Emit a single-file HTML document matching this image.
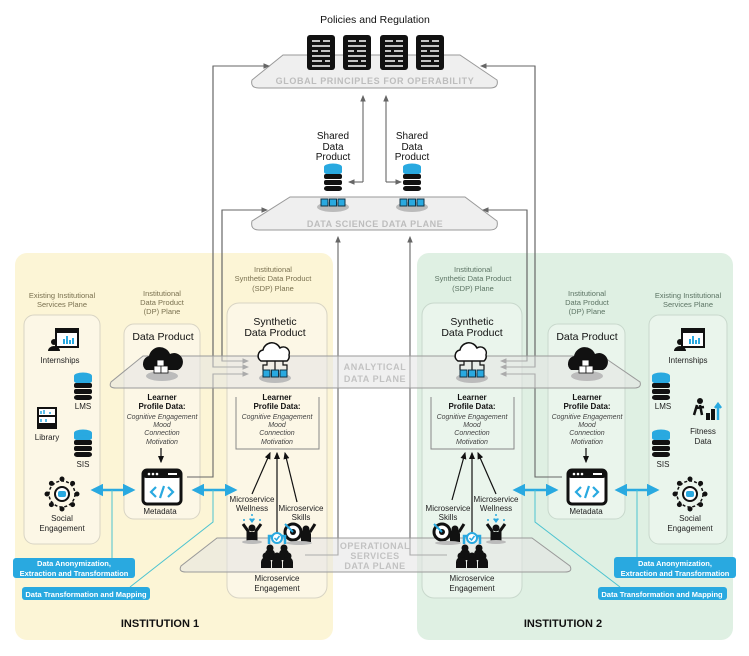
<!DOCTYPE html>
<html><head><meta charset="utf-8"><style>
html,body{margin:0;padding:0;background:#fff}
svg{display:block;font-family:"Liberation Sans",sans-serif}
</style></head><body>
<svg width="749" height="656" viewBox="0 0 749 656" xmlns="http://www.w3.org/2000/svg">
<defs>
<marker id="ag" markerWidth="6" markerHeight="6" refX="5" refY="3" orient="auto"><path d="M0,0.5 L6,3 L0,5.5z" fill="#666"/></marker>
<marker id="ab" markerWidth="6" markerHeight="6" refX="5" refY="3" orient="auto"><path d="M0,0.5 L6,3 L0,5.5z" fill="#111"/></marker>
<marker id="ac" markerWidth="5" markerHeight="5" refX="4" refY="2.5" orient="auto-start-reverse"><path d="M0,0 L5,2.5 L0,5z" fill="#29a9e0"/></marker>
<g id="db">
<ellipse cx="0" cy="2" rx="9" ry="3.5" fill="#29a9e0"/><rect x="-9" y="2" width="18" height="5" fill="#29a9e0"/><ellipse cx="0" cy="7" rx="9" ry="3" fill="#29a9e0"/>
<rect x="-9" y="9" width="18" height="5" rx="2" fill="#111"/><rect x="-9" y="15" width="18" height="5" rx="2" fill="#111"/><rect x="-9" y="21" width="18" height="5" rx="3" fill="#111"/>
</g>
<g id="cubes"><ellipse cx="0" cy="8" rx="16" ry="5" fill="#bbb"/>
<rect x="-12" y="0" width="7" height="7" fill="#29a9e0" stroke="#134" stroke-width="1"/><rect x="-3.5" y="0" width="7" height="7" fill="#29a9e0" stroke="#134" stroke-width="1"/><rect x="5" y="0" width="7" height="7" fill="#29a9e0" stroke="#134" stroke-width="1"/></g>
<g id="wcloud"><path d="M-14,8 a6,6 0 0 1 2,-11 a9,9 0 0 1 17,-2 a6,6 0 0 1 9,7 a6,6 0 0 1 -2,6z" fill="#fff" stroke="#111" stroke-width="1.5"/>
<path d="M-8,8 v4 h-4 v5 M0,8 v9 M8,8 v4 h4 v5" stroke="#111" fill="none" stroke-width="1.2"/>
<use href="#cubes" y="17"/></g>
<g id="bcloud"><ellipse cx="0" cy="16" rx="16" ry="5" fill="#bbb"/><path d="M-16,10 a8,8 0 0 1 3,-14 a11,11 0 0 1 21,-2 a8,8 0 0 1 8,16z" fill="#111"/>
<rect x="-5" y="0" width="7" height="7" fill="#fff" stroke="#111" stroke-width="0.8"/><rect x="-8" y="6" width="7" height="7" fill="#fff" stroke="#111" stroke-width="0.8"/><rect x="-1" y="6" width="7" height="7" fill="#fff" stroke="#111" stroke-width="0.8"/></g>
<g id="meta"><rect x="-19" y="-17" width="38" height="34" rx="4" fill="#fff" stroke="#111" stroke-width="3"/><rect x="-19" y="-17" width="38" height="8" rx="3" fill="#111"/>
<circle cx="-13" cy="-13" r="1.3" fill="#fff"/><circle cx="-9" cy="-13" r="1.3" fill="#fff"/><circle cx="-5" cy="-13" r="1.3" fill="#fff"/><rect x="6" y="-14" width="9" height="2" fill="#fff"/>
<path d="M-6,0 l-5,5 l5,5 M6,0 l5,5 l-5,5 M2,-1 l-4,12" stroke="#29a9e0" stroke-width="2.2" fill="none"/></g>
<g id="doc"><rect x="0" y="0" width="28" height="35" rx="3" fill="#111"/>
<path d="M5,6h8M16,6h7M5,11h18M5,16h6M14,16h9M5,21h18M5,26h10M18,26h5M5,31h18" stroke="#fff" stroke-width="1.6"/></g>
<g id="person"><circle cx="0" cy="-6" r="3.5" fill="#111"/><path d="M-5,6 v-6 a5,5 0 0 1 10,0 v6z" fill="#111"/></g>
<g id="social"><circle cx="0" cy="0" r="13" fill="none" stroke="#111" stroke-width="1.5" stroke-dasharray="3 2"/>
<circle cx="0" cy="0" r="7" fill="#fff" stroke="#111" stroke-width="2"/><rect x="-4" y="-3" width="8" height="6" rx="2" fill="#29a9e0"/>
<g fill="#111"><circle cx="0" cy="-15" r="2.5"/><circle cx="0" cy="15" r="2.5"/><circle cx="-15" cy="0" r="2.5"/><circle cx="15" cy="0" r="2.5"/><circle cx="10.6" cy="10.6" r="2.5"/><circle cx="-10.6" cy="10.6" r="2.5"/><circle cx="10.6" cy="-10.6" r="2.5"/><circle cx="-10.6" cy="-10.6" r="2.5"/></g></g>
<g id="intern"><rect x="-6" y="-12" width="22" height="18" fill="#fff" stroke="#111" stroke-width="2"/><rect x="-6" y="-12" width="22" height="4" fill="#111"/>
<path d="M2,3v-5M5,3v-8M8,3v-4M11,3v-6" stroke="#29a9e0" stroke-width="2"/><circle cx="-8" cy="1" r="3" fill="#111"/><path d="M-14,10 a6,5 0 0 1 12,0z" fill="#111"/></g>
<g id="engage"><path d="M-8,-2 v-8 h16 v8" fill="none" stroke="#29a9e0" stroke-width="2.5"/><circle cx="0" cy="-8" r="5" fill="#fff" stroke="#29a9e0" stroke-width="2"/><path d="M-2.5,-8 l2,2 l3,-4" stroke="#29a9e0" stroke-width="1.5" fill="none"/>
<use href="#person" x="-7" y="8"/><use href="#person" x="7" y="8"/><use href="#person" x="-11" y="16"/><use href="#person" x="0" y="16"/><use href="#person" x="11" y="16"/></g>
<g id="well"><path d="M-3,-13 a2,2 0 0 1 3,0 a2,2 0 0 1 3,0 l-3,4z" fill="#29a9e0"/><circle cx="-8" cy="-12" r="1" fill="#29a9e0"/><circle cx="8" cy="-12" r="1" fill="#29a9e0"/><circle cx="0" cy="-17" r="1" fill="#29a9e0"/>
<circle cx="0" cy="-4" r="3.5" fill="#111"/><path d="M-9,-8 l5,7 v10 h8 v-10 l5,-7" fill="none" stroke="#111" stroke-width="3"/><rect x="-4" y="0" width="8" height="9" fill="#111"/><ellipse cx="0" cy="10" rx="10" ry="2" fill="#bbb"/></g>
<g id="skill"><circle cx="-6" cy="0" r="8" fill="#fff" stroke="#111" stroke-width="3"/><circle cx="-6" cy="0" r="3" fill="#111"/><path d="M-6,0 l-8,-8" stroke="#29a9e0" stroke-width="2"/>
<circle cx="7" cy="-3" r="3.5" fill="#111"/><path d="M2,10 v-8 a5,5 0 0 1 10,0 v8z" fill="#111"/><path d="M11,0 l5,-8" stroke="#111" stroke-width="3"/><ellipse cx="0" cy="11" rx="13" ry="2" fill="#bbb"/></g>
</defs>

<!-- institution backgrounds -->
<rect x="15" y="253" width="318" height="387" rx="12" fill="#fcf5d6"/>
<rect x="417" y="253" width="316" height="387" rx="12" fill="#dff0e3"/>

<!-- columns inst1 -->
<g fill="#fbf9f0" fill-opacity="0.6" stroke="#d8d4c4" stroke-width="1">
<rect x="24" y="315" width="76" height="229" rx="10"/>
<rect x="124" y="324" width="76" height="195" rx="10"/>
<rect x="227" y="303" width="100" height="295" rx="12"/>
</g>
<g fill="#eef6ef" fill-opacity="0.7" stroke="#c8d8cc" stroke-width="1">
<rect x="422" y="303" width="100" height="295" rx="12"/>
<rect x="548" y="324" width="77" height="195" rx="10"/>
<rect x="649" y="315" width="78" height="229" rx="10"/>
</g>

<!-- top planes -->
<path d="M283,55 H460 L497,80 Q499,88 490,88 H259 Q250,88 252,80z" fill="#efefef" stroke="#999" stroke-width="1"/>
<text x="375" y="84" font-size="9" font-weight="bold" fill="#bdbdbd" text-anchor="middle" letter-spacing="0.6">GLOBAL PRINCIPLES FOR OPERABILITY</text>
<text x="375" y="23" font-size="10.5" fill="#111" text-anchor="middle">Policies and Regulation</text>
<use href="#doc" x="307" y="35"/><use href="#doc" x="343" y="35"/><use href="#doc" x="380" y="35"/><use href="#doc" x="416" y="35"/>

<path d="M290,197 H465 L497,221 Q499,230 490,230 H259 Q250,230 252,221z" fill="#efefef" stroke="#999" stroke-width="1"/>
<text x="375" y="227" font-size="9" font-weight="bold" fill="#bdbdbd" text-anchor="middle" letter-spacing="0.5">DATA SCIENCE DATA PLANE</text>
<g font-size="10" fill="#111" text-anchor="middle">
<text x="333" y="139">Shared</text><text x="333" y="150">Data</text><text x="333" y="160">Product</text>
<text x="412" y="139">Shared</text><text x="412" y="150">Data</text><text x="412" y="160">Product</text>
</g>
<use href="#db" x="333" y="165"/><use href="#db" x="412" y="165"/>
<use href="#cubes" x="333" y="199"/><use href="#cubes" x="412" y="199"/>

<!-- grey connector lines -->
<g fill="none" stroke="#666" stroke-width="1.1">
<path d="M363,182 V96" marker-end="url(#ag)"/><path d="M363,182 H349" marker-end="url(#ag)"/>
<path d="M386,182 V96" marker-end="url(#ag)"/><path d="M386,182 H401" marker-end="url(#ag)"/>
<path d="M248,367 H213 V66 H269" marker-end="url(#ag)"/>
<path d="M248,367 H214" stroke="none"/>
<path d="M222,361 V210 H267" marker-end="url(#ag)"/>
<path d="M222,210 V361 H248" marker-end="url(#ag)"/>
<path d="M213,66 V367 H248" marker-end="url(#ag)"/>
<path d="M187,477 H213 V374 H248" marker-end="url(#ag)"/>
<path d="M305,555 H338 V237" marker-end="url(#ag)"/>
<path d="M535,367 V66 H481" marker-end="url(#ag)"/>
<path d="M535,66 V367 H501" marker-end="url(#ag)"/>
<path d="M527,210 V361 H501" marker-end="url(#ag)"/>
<path d="M527,361 V210 H483" marker-end="url(#ag)"/>
<path d="M562,477 H535 V374 H501" marker-end="url(#ag)"/>
<path d="M447,555 H410 V237" marker-end="url(#ag)"/>
</g>

<!-- analytical plane -->
<path d="M143,356 H602 L640,382 Q642,388 634,388 H116 Q108,388 111,382z" fill="#e4e4e4" fill-opacity="0.55" stroke="#9a9a9a" stroke-width="1"/>
<text x="375" y="370" font-size="9" font-weight="bold" fill="#c2c2c2" text-anchor="middle" letter-spacing="0.6">ANALYTICAL</text>
<text x="375" y="382" font-size="9" font-weight="bold" fill="#c2c2c2" text-anchor="middle" letter-spacing="0.6">DATA PLANE</text>

<!-- operational plane -->
<path d="M217,538 H532 L570,566 Q573,572 565,572 H186 Q178,572 181,566z" fill="#e4e4e4" fill-opacity="0.55" stroke="#9a9a9a" stroke-width="1"/>
<g font-size="9" font-weight="bold" fill="#c2c2c2" text-anchor="middle" letter-spacing="0.5">
<text x="375" y="549">OPERATIONAL</text><text x="375" y="559">SERVICES</text><text x="375" y="569">DATA PLANE</text></g>

<!-- column titles -->
<g font-size="7.5" fill="#7a7150" text-anchor="middle">
<text x="62" y="298">Existing Institutional</text><text x="62" y="307">Services Plane</text>
<text x="162" y="296">Institutional</text><text x="162" y="305">Data Product</text><text x="162" y="314">(DP) Plane</text>
<text x="273" y="272">Institutional</text><text x="273" y="281">Synthetic Data Product</text><text x="273" y="291">(SDP) Plane</text>
</g>
<g font-size="7.5" fill="#5c7464" text-anchor="middle">
<text x="473" y="272">Institutional</text><text x="473" y="281">Synthetic Data Product</text><text x="473" y="291">(SDP) Plane</text>
<text x="587" y="296">Institutional</text><text x="587" y="305">Data Product</text><text x="587" y="314">(DP) Plane</text>
<text x="688" y="298">Existing Institutional</text><text x="688" y="307">Services Plane</text>
</g>

<!-- SDP contents -->
<g font-size="10.5" fill="#111" text-anchor="middle">
<text x="275" y="325">Synthetic</text><text x="275" y="336">Data Product</text>
<text x="472" y="325">Synthetic</text><text x="472" y="336">Data Product</text>
<text x="163" y="340">Data Product</text><text x="587" y="340">Data Product</text>
</g>
<use href="#wcloud" x="275" y="353"/><use href="#wcloud" x="472" y="353"/>
<use href="#bcloud" x="162" y="360"/><use href="#bcloud" x="587" y="360"/>
<path d="M236,397 V449 H319 V397" fill="none" stroke="#888"/>
<path d="M431,397 V449 H514 V397" fill="none" stroke="#888"/>
<g font-size="8" text-anchor="middle" fill="#111">
<g font-weight="bold"><text x="277" y="400">Learner</text><text x="277" y="409">Profile Data:</text>
<text x="472" y="400">Learner</text><text x="472" y="409">Profile Data:</text>
<text x="162" y="400">Learner</text><text x="162" y="409">Profile Data:</text>
<text x="587" y="400">Learner</text><text x="587" y="409">Profile Data:</text></g>
<g font-style="italic" font-size="7" fill="#444">
<text x="277" y="419">Cognitive Engagement</text><text x="277" y="427">Mood</text><text x="277" y="435">Connection</text><text x="277" y="444">Motivation</text>
<text x="472" y="419">Cognitive Engagement</text><text x="472" y="427">Mood</text><text x="472" y="435">Connection</text><text x="472" y="444">Motivation</text>
<text x="162" y="419">Cognitive Engagement</text><text x="162" y="427">Mood</text><text x="162" y="435">Connection</text><text x="162" y="444">Motivation</text>
<text x="587" y="419">Cognitive Engagement</text><text x="587" y="427">Mood</text><text x="587" y="435">Connection</text><text x="587" y="444">Motivation</text>
</g>
</g>
<g stroke="#111" stroke-width="1.2" fill="none">
<path d="M161,448 V462" marker-end="url(#ab)"/><path d="M586,448 V462" marker-end="url(#ab)"/>
<path d="M252,494 L270,453" marker-end="url(#ab)"/><path d="M277,540 V453" marker-end="url(#ab)"/><path d="M297,502 L285,453" marker-end="url(#ab)"/>
<path d="M452,500 L465,453" marker-end="url(#ab)"/><path d="M472,540 V453" marker-end="url(#ab)"/><path d="M496,494 L478,453" marker-end="url(#ab)"/>
</g>
<use href="#meta" x="162" y="487"/><use href="#meta" x="587" y="487"/>
<g font-size="8" fill="#222" text-anchor="middle">
<text x="160" y="514">Metadata</text><text x="586" y="514">Metadata</text>
<text x="252" y="502">Microservice</text><text x="252" y="511">Wellness</text>
<text x="301" y="511">Microservice</text><text x="301" y="520">Skills</text>
<text x="277" y="581">Microservice</text><text x="277" y="591">Engagement</text>
<text x="448" y="511">Microservice</text><text x="448" y="520">Skills</text>
<text x="496" y="502">Microservice</text><text x="496" y="511">Wellness</text>
<text x="472" y="581">Microservice</text><text x="472" y="591">Engagement</text>
</g>
<use href="#well" x="252" y="532"/><use href="#skill" x="299" y="532"/><use href="#engage" x="277" y="546"/>
<use href="#skill" x="448" y="532"/><use href="#well" x="496" y="532"/><use href="#engage" x="472" y="546"/>

<!-- existing services -->
<use href="#intern" x="62" y="341"/><use href="#intern" x="688" y="341"/>
<use href="#db" x="83" y="374"/><use href="#db" x="83" y="431"/>
<use href="#db" x="661" y="374"/><use href="#db" x="661" y="431"/>
<g><rect x="37" y="407" width="20" height="22" fill="#111"/><rect x="39" y="409" width="16" height="6" fill="#fff"/><rect x="39" y="417" width="16" height="6" fill="#fff"/><path d="M41,414v-3M44,414v-4M50,414v-2M41,422v-3M46,422v-3" stroke="#29a9e0" stroke-width="1.5"/></g>
<g><circle cx="700" cy="401" r="3" fill="#111"/><path d="M697,405 l-3,10 M700,405 l2,10 M696,408 l8,-1" stroke="#111" stroke-width="2.5"/><rect x="706" y="413" width="4" height="7" fill="#111"/><rect x="711" y="409" width="4" height="11" fill="#111"/><path d="M718,420 v-15 m-3,3 l3,-4 l3,4" stroke="#29a9e0" stroke-width="2.5" fill="none"/></g>
<use href="#social" x="62" y="494"/><use href="#social" x="690" y="494"/>
<g font-size="8" fill="#222" text-anchor="middle">
<text x="60" y="363">Internships</text><text x="83" y="409">LMS</text><text x="47" y="440">Library</text><text x="83" y="467">SIS</text>
<text x="62" y="521">Social</text><text x="62" y="531">Engagement</text>
<text x="688" y="363">Internships</text><text x="663" y="409">LMS</text><text x="663" y="467">SIS</text>
<text x="703" y="434">Fitness</text><text x="703" y="444">Data</text>
<text x="690" y="521">Social</text><text x="690" y="531">Engagement</text>
</g>

<!-- cyan connectors -->
<g stroke="#29a9e0" stroke-width="2.5" fill="none" marker-start="url(#ac)" marker-end="url(#ac)">
<path d="M93,490 H133"/><path d="M194,490 H235"/><path d="M515,490 H556"/><path d="M617,490 H657"/>
</g>
<g stroke="#4cc3d0" stroke-width="1" fill="none">
<path d="M112,490 V558"/><path d="M213,490 V522 L130,587"/>
<path d="M535,490 V522 L620,587"/><path d="M637,490 V557"/>
</g>
<g fill="#29a9e0">
<rect x="13" y="558" width="122" height="20" rx="3"/><rect x="22" y="587" width="128" height="13" rx="3"/>
<rect x="614" y="557" width="122" height="21" rx="3"/><rect x="598" y="587" width="129" height="13" rx="3"/>
</g>
<g font-size="7.5" font-weight="bold" fill="#fff" text-anchor="middle">
<text x="74" y="566">Data Anonymization,</text><text x="74" y="576">Extraction and Transformation</text>
<text x="86" y="597">Data Transformation and Mapping</text>
<text x="675" y="566">Data Anonymization,</text><text x="675" y="576">Extraction and Transformation</text>
<text x="662" y="597">Data Transformation and Mapping</text>
</g>

<g font-size="11" font-weight="bold" fill="#111" text-anchor="middle">
<text x="160" y="627">INSTITUTION 1</text><text x="563" y="627">INSTITUTION 2</text></g>
</svg>
</body></html>
